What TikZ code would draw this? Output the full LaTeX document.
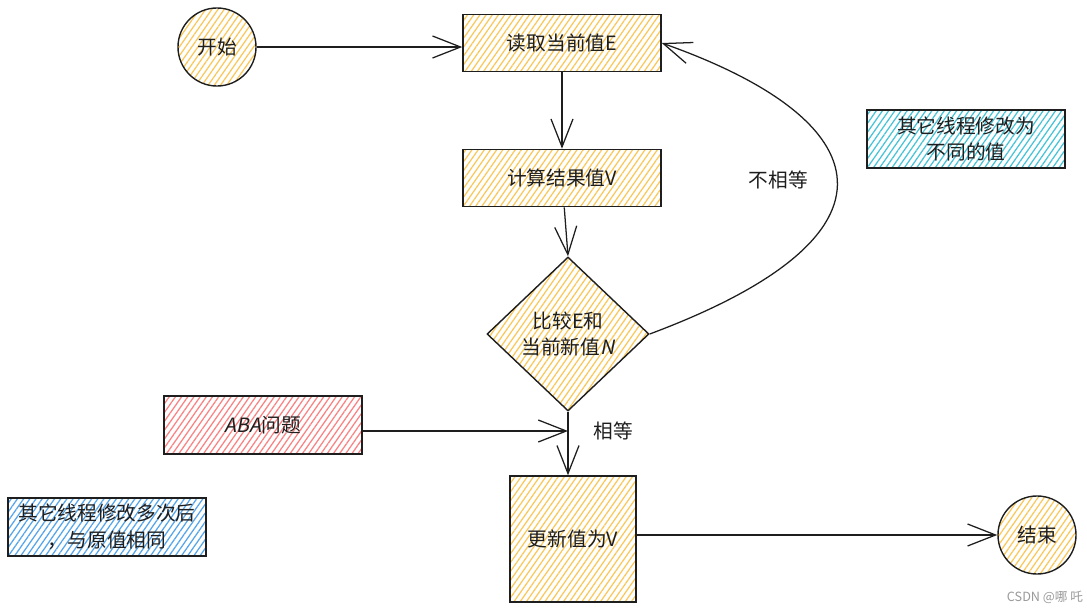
\documentclass[tikz,border=0pt]{standalone}
\usepackage{fontspec}
\setmainfont{Noto Sans CJK SC}
\newfontfamily\slantcjk[FakeSlant=0.2]{Noto Sans CJK SC}
\usetikzlibrary{shapes.geometric,arrows.meta,patterns.meta}
\definecolor{ink}{RGB}{30,30,30}
\definecolor{hatchyellow}{RGB}{250,200,90}
\definecolor{hatchred}{RGB}{250,130,130}
\definecolor{hatchcyan}{RGB}{70,195,215}
\definecolor{hatchblue}{RGB}{85,165,235}

\begin{document}
\begin{tikzpicture}[x=0.025cm, y=-0.025cm, font=\fontsize{14}{19}\selectfont, text=ink,
    hatch/.style={draw=ink, line width=1pt, pattern={Lines[angle=55,distance=3.6pt,line width=0.9pt]}, pattern color=#1},
    stepbox/.style={hatch=hatchyellow, rectangle, minimum width=4.95cm, minimum height=1.43cm},
    notebox/.style={hatch=#1, rectangle, minimum width=4.95cm, minimum height=1.45cm, align=center, inner sep=1pt},
    endpoint/.style={hatch=hatchyellow, circle, minimum size=1.95cm, inner sep=0pt},
    flow/.style={draw=ink, line width=0.9pt, -{Straight Barb[length=7mm,width=5.5mm,line width=0.9pt]}}]
    \useasboundingbox (0,0) rectangle (1087,612);

    \node (start) [endpoint] at (217, 47) {开始};
    \node (read) [stepbox] at (562, 43) {读取当前值E};
    \node (calc) [stepbox] at (562, 178) {计算结果值V};
    \node (cmp) [hatch=hatchyellow, diamond, minimum width=4.05cm, minimum height=3.85cm, align=center, inner sep=0pt] at (568, 334) {比较E和\\当前新值{\slantcjk N}};
    \node (upd) [stepbox, minimum width=3.15cm, minimum height=3.15cm] at (573, 539) {更新值为V};
    \node (stop) [endpoint] at (1037, 535) {结束};

    \node (aba) [notebox=hatchred] at (263, 425) {{\slantcjk ABA}问题};
    \node (diffnote) [notebox=hatchcyan] at (966, 139) {其它线程修改为\\不同的值};
    \node (samenote) [notebox=hatchblue] at (107, 527) {其它线程修改多次后\\，与原值相同};
    \node (mark) [text=gray!80, font=\fontsize{9}{11}\selectfont] at (1045, 597) {CSDN @哪 吒};

    \coordinate (join) at (568, 431);

    \draw[flow] (start.east) -- (start.east -| read.west);
    \draw[flow] (read) -- (calc);
    \draw[flow] (calc) -- (cmp.north);
    \draw[flow] (cmp.east) .. controls (915, 235) and (880, 120) .. (read.east) node[pos=0.5, left=6mm] {不相等};
    \draw[flow] (cmp.south) -- (cmp.south |- upd.north) node[pos=0.3, right=5mm] {相等};
    \draw[flow] (aba.east |- join) -- (join);
    \draw[flow] (stop -| upd.east) -- (stop.west);
\end{tikzpicture}
\end{document}
